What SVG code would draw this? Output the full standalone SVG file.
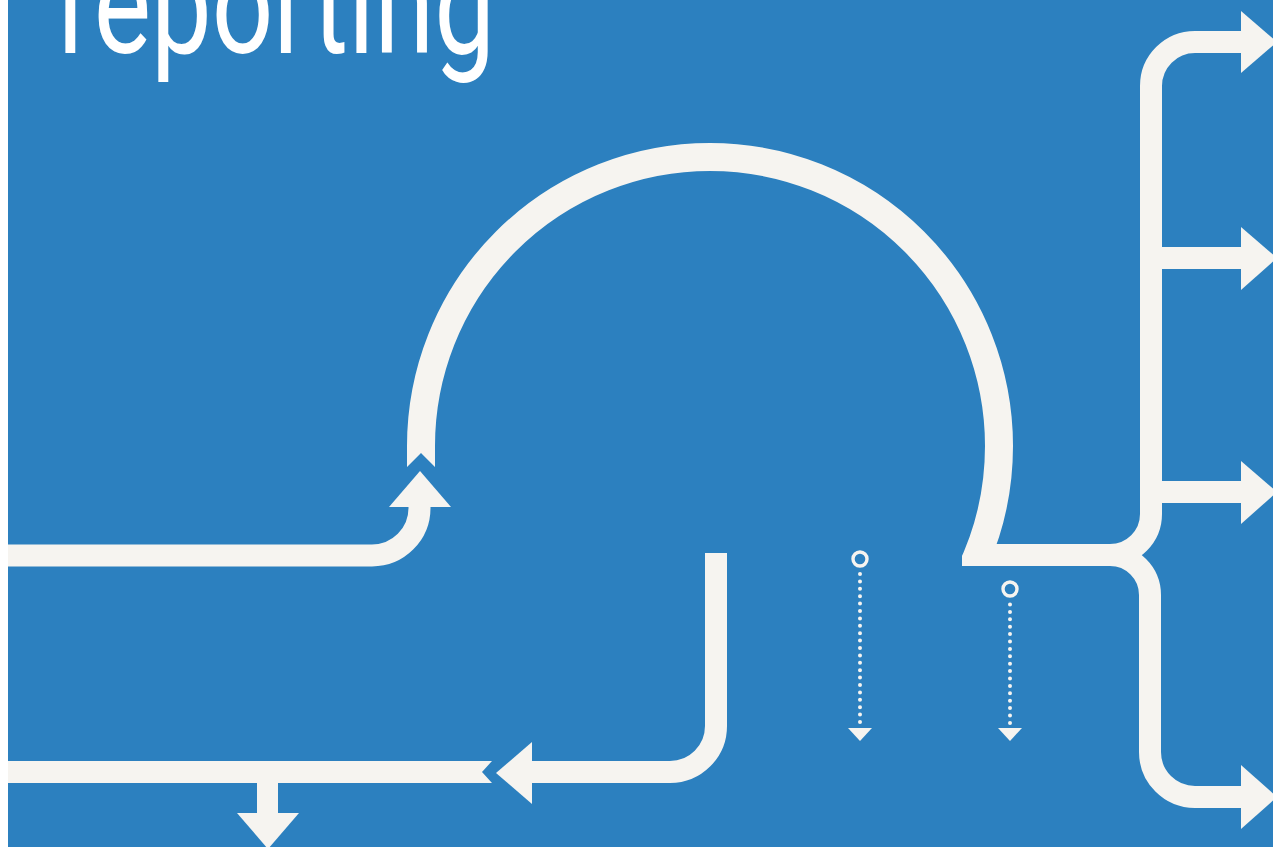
<svg xmlns="http://www.w3.org/2000/svg" width="1273" height="847" viewBox="0 0 1273 847">
  <defs>
    <style>
      .ln { fill: none; stroke: #F6F4F0; stroke-width: 22; stroke-linecap: butt; stroke-linejoin: miter; }
      .big { fill: none; stroke: #F6F4F0; stroke-width: 28; }
      .fl { fill: #F6F4F0; stroke: none; }
      .dot { fill: none; stroke: #F6F4F0; stroke-width: 4; stroke-dasharray: 0 7.4; stroke-linecap: round; }
      .ring { fill: none; stroke: #F6F4F0; stroke-width: 3.4; }
      .title { font-family: Roboto, "Liberation Sans", sans-serif; font-weight: 400; font-size: 142px; fill: #FFFFFF; }
    </style>
    <clipPath id="arcClip">
      <rect x="0" y="0" width="1273" height="520"/>
      <rect x="962" y="519" width="311" height="47"/>
    </clipPath>
  </defs>
  <rect x="0" y="0" width="1273" height="847" fill="#FFFFFF"/>
  <rect x="8" y="0" width="1265" height="847" fill="#2C80BF"/>

  <text class="title" x="58" y="53" textLength="437" lengthAdjust="spacingAndGlyphs">reporting</text>

  <g id="connectors">
    <g id="entry-left">
      <path class="ln" d="M8 555.5 H372 A47.5 47.5 0 0 0 419.5 508 V507"/>
      <polygon class="fl" points="389,507 451,507 420,471"/>
    </g>
    <g id="big-arc">
      <polygon class="fl" points="407,467 421,453 435,467 435,445 407,445"/>
      <path class="big" clip-path="url(#arcClip)" d="M421 446 A289 289 0 0 1 999 446 A289 289 0 0 1 966 580"/>
    </g>
    <g id="trunk">
      <path class="ln" d="M985 555 H1110 A41 41 0 0 0 1151 514 V86 A44 44 0 0 1 1195 42 H1242"/>
      <polygon class="fl" points="1241,11 1277,42 1241,73"/>
      <path class="ln" d="M1110 555 A40 40 0 0 1 1150 595 V752 A45 45 0 0 0 1195 797 H1242"/>
      <polygon class="fl" points="1241,765 1277,797 1241,829"/>
      <path class="ln" d="M1160 258 H1242"/>
      <polygon class="fl" points="1241,227 1277,258 1241,290"/>
      <path class="ln" d="M1160 492 H1242"/>
      <polygon class="fl" points="1241,461 1277,492 1241,524"/>
    </g>
    <g id="bottom-j">
      <path class="ln" d="M716 553 V726 A46 46 0 0 1 670 772 H530"/>
      <polygon class="fl" points="532,742 496,773 532,804"/>
    </g>
    <g id="bottom-left">
      <polygon class="fl" points="8,761 492,761 482,772 492,783 8,783"/>
      <rect class="fl" x="257" y="780" width="21" height="34"/>
      <polygon class="fl" points="237,813 299,813 268,849"/>
    </g>
    <g id="dotted-1">
      <circle class="ring" cx="860" cy="559" r="7"/>
      <path class="dot" d="M860 574 V724"/>
      <polygon class="fl" points="848,728 872,728 860,741"/>
    </g>
    <g id="dotted-2">
      <circle class="ring" cx="1010" cy="589" r="7"/>
      <path class="dot" d="M1010 604.5 V724"/>
      <polygon class="fl" points="998,728 1022,728 1010,741"/>
    </g>
  </g>
</svg>
